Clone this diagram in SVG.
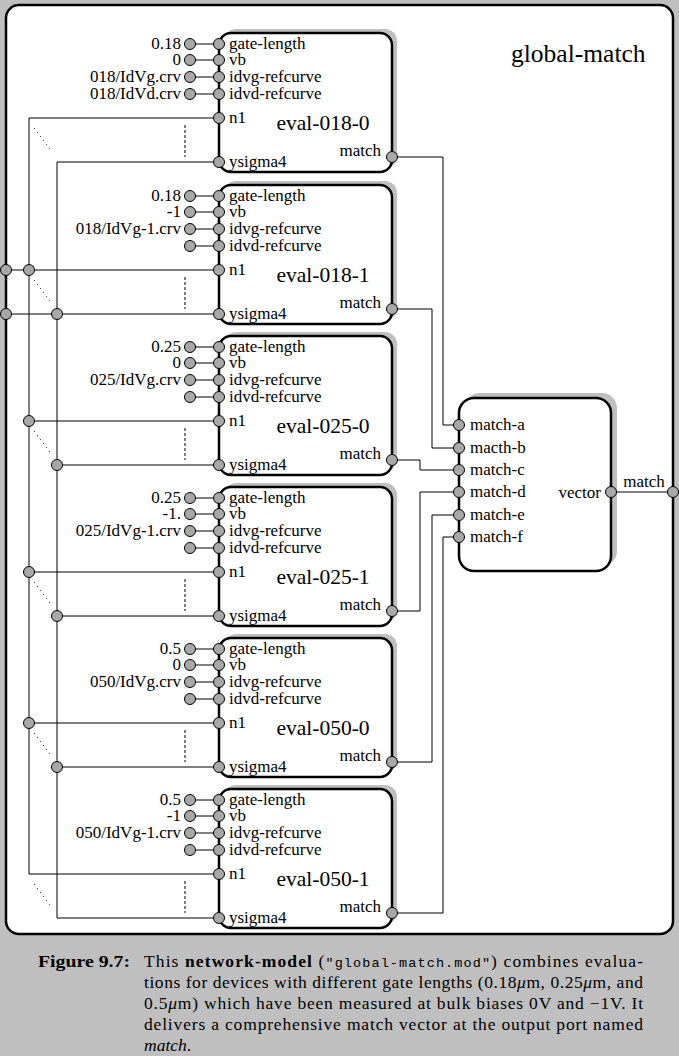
<svg xmlns="http://www.w3.org/2000/svg" width="679" height="1056" viewBox="0 0 679 1056">
<defs>
<style>
.bg{fill:#bfbfbf}
.frame{fill:#fff;stroke:#000;stroke-width:2.5}
.shadow{fill:#bfbfbf;stroke:none}
.block{fill:#fff;stroke:#000;stroke-width:2.5}
.port{fill:#a8a8a8;stroke:#000;stroke-width:1}
.wire{fill:none;stroke:#000;stroke-width:1}
.dot{fill:none;stroke:#000;stroke-width:1;stroke-dasharray:1 4}
.dash{fill:none;stroke:#000;stroke-width:1;stroke-dasharray:3 2}
text{font-family:"Liberation Serif","Times New Roman",serif;fill:#000}
.lbl{font-size:17px}
.cl{font-size:17px;text-anchor:end}
.name{font-size:21.5px;text-anchor:middle}
.title{font-size:25.5px}
.cap{font-size:17.5px}
.b{font-weight:bold}
.mono{font-family:"Liberation Mono","Courier New",monospace;font-size:13.5px}
.it{font-style:italic}
</style>
</defs>
<rect class="bg" x="0" y="0" width="679" height="1056"/>
<rect id="global-match-frame" class="frame" x="6" y="5" width="667" height="929" rx="13"/>
<text id="title" class="title" x="511" y="62">global-match</text>

<g id="connectors">
  <path class="wire" d="M190,44H219M190,60H219M190,77H219M190,94H219"/>
  <path class="wire" d="M190,196H219M190,212H219M190,229H219M190,246H219"/>
  <path class="wire" d="M190,347H219M190,363H219M190,380H219M190,397H219"/>
  <path class="wire" d="M190,498H219M190,514H219M190,531H219M190,548H219"/>
  <path class="wire" d="M190,649H219M190,665H219M190,682H219M190,699H219"/>
  <path class="wire" d="M190,800H219M190,816H219M190,833H219M190,850H219"/>
  <path class="wire" d="M219,118H29V874H219"/>
  <path class="wire" d="M6,270H219M29,421H219M29,572H219M29,723H219"/>
  <path class="wire" d="M219,162H57V918H219"/>
  <path class="wire" d="M6,314H219M57,465H219M57,616H219M57,767H219"/>
  <path class="dot" d="M34,128L50,149M34,280L50,301M34,431L50,452M34,582L50,603M34,733L50,754M34,884L50,905"/>
  <path class="dash" d="M185,125V157M185,277V309M185,428V460M185,579V611M185,730V762M185,881V913"/>
  <path class="wire" d="M392,157H443V425H459"/>
  <path class="wire" d="M392,309H432V448H459"/>
  <path class="wire" d="M392,460H420V470H459"/>
  <path class="wire" d="M392,611H420V492H459"/>
  <path class="wire" d="M392,762H432V515H459"/>
  <path class="wire" d="M392,913H443V537H459"/>
  <path class="wire" d="M611,492H673"/>
  <text class="lbl" x="644" y="487" text-anchor="middle">match</text>
  <circle class="port" cx="6" cy="270" r="5.5"/>
  <circle class="port" cx="6" cy="314" r="5.5"/>
  <circle class="port" cx="29" cy="270" r="5.5"/>
  <circle class="port" cx="29" cy="421" r="5.5"/>
  <circle class="port" cx="29" cy="572" r="5.5"/>
  <circle class="port" cx="29" cy="723" r="5.5"/>
  <circle class="port" cx="57" cy="314" r="5.5"/>
  <circle class="port" cx="57" cy="465" r="5.5"/>
  <circle class="port" cx="57" cy="616" r="5.5"/>
  <circle class="port" cx="57" cy="767" r="5.5"/>
  <circle class="port" cx="673" cy="492" r="5.5"/>
</g>

<g id="eval-018-0">
  <rect class="shadow" x="224" y="29" width="173" height="139" rx="12"/>
  <rect class="block" x="219" y="33" width="173" height="139" rx="12"/>
  <text class="name" x="323" y="130">eval-018-0</text>
  <text class="lbl" x="229" y="49">gate-length</text>
  <text class="lbl" x="229" y="65">vb</text>
  <text class="lbl" x="229" y="82">idvg-refcurve</text>
  <text class="lbl" x="229" y="99">idvd-refcurve</text>
  <text class="lbl" x="229" y="123">n1</text>
  <text class="lbl" x="229" y="167">ysigma4</text>
  <text class="cl" x="381" y="156">match</text>
  <text class="cl" x="181" y="49">0.18</text>
  <text class="cl" x="181" y="65">0</text>
  <text class="cl" x="181" y="82">018/IdVg.crv</text>
  <text class="cl" x="181" y="99">018/IdVd.crv</text>
  <circle class="port" cx="190" cy="44" r="5.5"/><circle class="port" cx="190" cy="60" r="5.5"/><circle class="port" cx="190" cy="77" r="5.5"/><circle class="port" cx="190" cy="94" r="5.5"/>
  <circle class="port" cx="219" cy="44" r="5.5"/><circle class="port" cx="219" cy="60" r="5.5"/><circle class="port" cx="219" cy="77" r="5.5"/><circle class="port" cx="219" cy="94" r="5.5"/>
  <circle class="port" cx="219" cy="118" r="5.5"/><circle class="port" cx="219" cy="162" r="5.5"/><circle class="port" cx="392" cy="157" r="5.5"/>
</g>

<g id="eval-018-1">
  <rect class="shadow" x="224" y="181" width="173" height="139" rx="12"/>
  <rect class="block" x="219" y="185" width="173" height="139" rx="12"/>
  <text class="name" x="323" y="282">eval-018-1</text>
  <text class="lbl" x="229" y="201">gate-length</text>
  <text class="lbl" x="229" y="217">vb</text>
  <text class="lbl" x="229" y="234">idvg-refcurve</text>
  <text class="lbl" x="229" y="251">idvd-refcurve</text>
  <text class="lbl" x="229" y="275">n1</text>
  <text class="lbl" x="229" y="319">ysigma4</text>
  <text class="cl" x="381" y="308">match</text>
  <text class="cl" x="181" y="201">0.18</text>
  <text class="cl" x="181" y="217">-1</text>
  <text class="cl" x="181" y="234">018/IdVg-1.crv</text>
  <circle class="port" cx="190" cy="196" r="5.5"/><circle class="port" cx="190" cy="212" r="5.5"/><circle class="port" cx="190" cy="229" r="5.5"/><circle class="port" cx="190" cy="246" r="5.5"/>
  <circle class="port" cx="219" cy="196" r="5.5"/><circle class="port" cx="219" cy="212" r="5.5"/><circle class="port" cx="219" cy="229" r="5.5"/><circle class="port" cx="219" cy="246" r="5.5"/>
  <circle class="port" cx="219" cy="270" r="5.5"/><circle class="port" cx="219" cy="314" r="5.5"/><circle class="port" cx="392" cy="309" r="5.5"/>
</g>

<g id="eval-025-0">
  <rect class="shadow" x="224" y="332" width="173" height="139" rx="12"/>
  <rect class="block" x="219" y="336" width="173" height="139" rx="12"/>
  <text class="name" x="323" y="433">eval-025-0</text>
  <text class="lbl" x="229" y="352">gate-length</text>
  <text class="lbl" x="229" y="368">vb</text>
  <text class="lbl" x="229" y="385">idvg-refcurve</text>
  <text class="lbl" x="229" y="402">idvd-refcurve</text>
  <text class="lbl" x="229" y="426">n1</text>
  <text class="lbl" x="229" y="470">ysigma4</text>
  <text class="cl" x="381" y="459">match</text>
  <text class="cl" x="181" y="352">0.25</text>
  <text class="cl" x="181" y="368">0</text>
  <text class="cl" x="181" y="385">025/IdVg.crv</text>
  <circle class="port" cx="190" cy="347" r="5.5"/><circle class="port" cx="190" cy="363" r="5.5"/><circle class="port" cx="190" cy="380" r="5.5"/><circle class="port" cx="190" cy="397" r="5.5"/>
  <circle class="port" cx="219" cy="347" r="5.5"/><circle class="port" cx="219" cy="363" r="5.5"/><circle class="port" cx="219" cy="380" r="5.5"/><circle class="port" cx="219" cy="397" r="5.5"/>
  <circle class="port" cx="219" cy="421" r="5.5"/><circle class="port" cx="219" cy="465" r="5.5"/><circle class="port" cx="392" cy="460" r="5.5"/>
</g>

<g id="eval-025-1">
  <rect class="shadow" x="224" y="483" width="173" height="139" rx="12"/>
  <rect class="block" x="219" y="487" width="173" height="139" rx="12"/>
  <text class="name" x="323" y="584">eval-025-1</text>
  <text class="lbl" x="229" y="503">gate-length</text>
  <text class="lbl" x="229" y="519">vb</text>
  <text class="lbl" x="229" y="536">idvg-refcurve</text>
  <text class="lbl" x="229" y="553">idvd-refcurve</text>
  <text class="lbl" x="229" y="577">n1</text>
  <text class="lbl" x="229" y="621">ysigma4</text>
  <text class="cl" x="381" y="610">match</text>
  <text class="cl" x="181" y="503">0.25</text>
  <text class="cl" x="181" y="519">-1.</text>
  <text class="cl" x="181" y="536">025/IdVg-1.crv</text>
  <circle class="port" cx="190" cy="498" r="5.5"/><circle class="port" cx="190" cy="514" r="5.5"/><circle class="port" cx="190" cy="531" r="5.5"/><circle class="port" cx="190" cy="548" r="5.5"/>
  <circle class="port" cx="219" cy="498" r="5.5"/><circle class="port" cx="219" cy="514" r="5.5"/><circle class="port" cx="219" cy="531" r="5.5"/><circle class="port" cx="219" cy="548" r="5.5"/>
  <circle class="port" cx="219" cy="572" r="5.5"/><circle class="port" cx="219" cy="616" r="5.5"/><circle class="port" cx="392" cy="611" r="5.5"/>
</g>

<g id="eval-050-0">
  <rect class="shadow" x="224" y="634" width="173" height="139" rx="12"/>
  <rect class="block" x="219" y="638" width="173" height="139" rx="12"/>
  <text class="name" x="323" y="735">eval-050-0</text>
  <text class="lbl" x="229" y="654">gate-length</text>
  <text class="lbl" x="229" y="670">vb</text>
  <text class="lbl" x="229" y="687">idvg-refcurve</text>
  <text class="lbl" x="229" y="704">idvd-refcurve</text>
  <text class="lbl" x="229" y="728">n1</text>
  <text class="lbl" x="229" y="772">ysigma4</text>
  <text class="cl" x="381" y="761">match</text>
  <text class="cl" x="181" y="654">0.5</text>
  <text class="cl" x="181" y="670">0</text>
  <text class="cl" x="181" y="687">050/IdVg.crv</text>
  <circle class="port" cx="190" cy="649" r="5.5"/><circle class="port" cx="190" cy="665" r="5.5"/><circle class="port" cx="190" cy="682" r="5.5"/><circle class="port" cx="190" cy="699" r="5.5"/>
  <circle class="port" cx="219" cy="649" r="5.5"/><circle class="port" cx="219" cy="665" r="5.5"/><circle class="port" cx="219" cy="682" r="5.5"/><circle class="port" cx="219" cy="699" r="5.5"/>
  <circle class="port" cx="219" cy="723" r="5.5"/><circle class="port" cx="219" cy="767" r="5.5"/><circle class="port" cx="392" cy="762" r="5.5"/>
</g>

<g id="eval-050-1">
  <rect class="shadow" x="224" y="785" width="173" height="139" rx="12"/>
  <rect class="block" x="219" y="789" width="173" height="139" rx="12"/>
  <text class="name" x="323" y="886">eval-050-1</text>
  <text class="lbl" x="229" y="805">gate-length</text>
  <text class="lbl" x="229" y="821">vb</text>
  <text class="lbl" x="229" y="838">idvg-refcurve</text>
  <text class="lbl" x="229" y="855">idvd-refcurve</text>
  <text class="lbl" x="229" y="879">n1</text>
  <text class="lbl" x="229" y="923">ysigma4</text>
  <text class="cl" x="381" y="912">match</text>
  <text class="cl" x="181" y="805">0.5</text>
  <text class="cl" x="181" y="821">-1</text>
  <text class="cl" x="181" y="838">050/IdVg-1.crv</text>
  <circle class="port" cx="190" cy="800" r="5.5"/><circle class="port" cx="190" cy="816" r="5.5"/><circle class="port" cx="190" cy="833" r="5.5"/><circle class="port" cx="190" cy="850" r="5.5"/>
  <circle class="port" cx="219" cy="800" r="5.5"/><circle class="port" cx="219" cy="816" r="5.5"/><circle class="port" cx="219" cy="833" r="5.5"/><circle class="port" cx="219" cy="850" r="5.5"/>
  <circle class="port" cx="219" cy="874" r="5.5"/><circle class="port" cx="219" cy="918" r="5.5"/><circle class="port" cx="392" cy="913" r="5.5"/>
</g>

<g id="vector">
  <rect class="shadow" x="465" y="393" width="152" height="173" rx="15"/>
  <rect class="block" x="459" y="398" width="152" height="173" rx="15"/>
  <text class="lbl" x="470" y="430">match-a</text>
  <text class="lbl" x="470" y="453">macth-b</text>
  <text class="lbl" x="470" y="475">match-c</text>
  <text class="lbl" x="470" y="497">match-d</text>
  <text class="lbl" x="470" y="520">match-e</text>
  <text class="lbl" x="470" y="542">match-f</text>
  <text class="cl" x="601" y="498">vector</text>
  <circle class="port" cx="459" cy="425" r="5.5"/><circle class="port" cx="459" cy="448" r="5.5"/><circle class="port" cx="459" cy="470" r="5.5"/>
  <circle class="port" cx="459" cy="492" r="5.5"/><circle class="port" cx="459" cy="515" r="5.5"/><circle class="port" cx="459" cy="537" r="5.5"/>
  <circle class="port" cx="611" cy="492" r="5.5"/>
</g>

<g id="caption">
  <text class="cap b" x="38" y="967" textLength="92" lengthAdjust="spacingAndGlyphs">Figure 9.7:</text>
  <text class="cap" x="144" y="967" textLength="499" lengthAdjust="spacing">This <tspan class="b">network-model</tspan> (<tspan class="mono">"global-match.mod"</tspan>) combines evalua-</text>
  <text class="cap" x="144" y="988" textLength="499" lengthAdjust="spacing">tions for devices with different gate lengths (0.18<tspan class="it">μ</tspan>m, 0.25<tspan class="it">μ</tspan>m, and</text>
  <text class="cap" x="144" y="1009" textLength="499" lengthAdjust="spacing">0.5<tspan class="it">μ</tspan>m) which have been measured at bulk biases 0V and −1V. It</text>
  <text class="cap" x="144" y="1030" textLength="499" lengthAdjust="spacing">delivers a comprehensive match vector at the output port named</text>
  <text class="cap" x="144" y="1051"><tspan class="it">match</tspan>.</text>
</g>
</svg>
